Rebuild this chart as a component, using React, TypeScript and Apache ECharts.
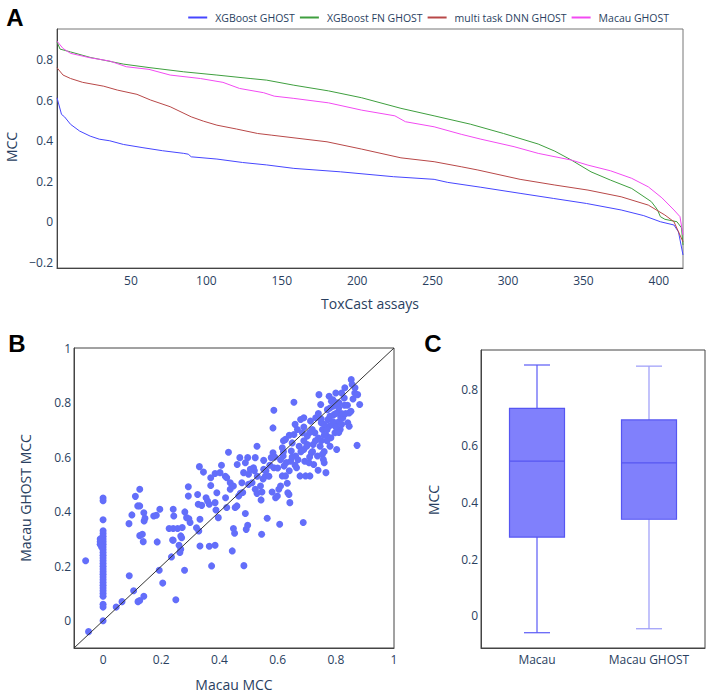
import { useEffect, useRef } from "react";
import * as echarts from "echarts";

// ---------- Panel A: sorted MCC per ToxCast assay ----------
const seriesNames = ["XGBoost GHOST", "XGBoost FN GHOST", "multi task DNN GHOST", "Macau GHOST"];
const assayTicks = [50, 100, 150, 200, 250, 300, 350, 400];
const mccTicksA = [-0.2, 0, 0.2, 0.4, 0.6, 0.8];

const xgbGhost = [
  [1, 0.611], [4, 0.529], [6, 0.517], [10, 0.48], [16, 0.447], [23, 0.422], [29, 0.407],
  [36, 0.399], [45, 0.381], [58, 0.365], [71, 0.35], [85, 0.337], [88, 0.333], [90, 0.32],
  [107, 0.309], [124, 0.292], [140, 0.28], [158, 0.263], [189, 0.246], [224, 0.222],
  [251, 0.209], [260, 0.194], [282, 0.17], [308, 0.14], [330, 0.115], [352, 0.09],
  [375, 0.058], [390, 0.03], [401, 0.0], [410, -0.016], [413, -0.05], [416, -0.164],
];
const xgbFnGhost = [
  [1, 0.887], [3, 0.851], [10, 0.837], [23, 0.81], [45, 0.777], [62, 0.76], [85, 0.739],
  [107, 0.723], [129, 0.706], [140, 0.698], [158, 0.673], [181, 0.645], [203, 0.611],
  [229, 0.559], [251, 0.522], [275, 0.481], [297, 0.435], [320, 0.383], [331, 0.348],
  [342, 0.304], [355, 0.246], [368, 0.205], [382, 0.164], [395, 0.099], [399, 0.06],
  [401, 0.025], [404, 0.012], [412, 0.0], [415, -0.03], [416, -0.115],
];
const dnnGhost = [
  [1, 0.759], [5, 0.723], [10, 0.706], [18, 0.687], [32, 0.668], [41, 0.649], [54, 0.628],
  [63, 0.6], [76, 0.567], [90, 0.517], [98, 0.496], [107, 0.476], [120, 0.457], [134, 0.435],
  [143, 0.427], [180, 0.394], [203, 0.358], [229, 0.315], [251, 0.296], [269, 0.271],
  [280, 0.255], [308, 0.209], [331, 0.181], [353, 0.156], [375, 0.123], [393, 0.082],
  [404, 0.033], [410, 0.0], [416, -0.099],
];
const macauGhost = [
  [1, 0.89], [5, 0.854], [10, 0.83], [23, 0.808], [36, 0.792], [47, 0.764], [62, 0.751],
  [76, 0.723], [96, 0.706], [111, 0.687], [122, 0.657], [138, 0.636], [145, 0.619],
  [158, 0.608], [181, 0.586], [203, 0.55], [225, 0.522], [232, 0.493], [251, 0.468],
  [269, 0.431], [282, 0.407], [304, 0.37], [320, 0.337], [342, 0.304], [353, 0.279],
  [368, 0.251], [382, 0.214], [393, 0.172], [402, 0.118], [410, 0.058], [414, 0.025],
  [416, -0.065],
];
const lineColors = ["#4646ff", "#3f9f3f", "#b84848", "#f24af2"];

// ---------- Panel B: Macau MCC vs Macau GHOST MCC ----------
const scatterTicks = [0, 0.2, 0.4, 0.6, 0.8, 1];
const diagonal = [[-0.1, -0.1], [1, 1]];
const zeroColumnGhost = [
  0.45, 0.44, 0.37, 0.33, 0.32, 0.31, 0.3, 0.29, 0.28, 0.27, 0.26, 0.25, 0.24, 0.23, 0.22,
  0.21, 0.2, 0.19, 0.18, 0.17, 0.16, 0.15, 0.14, 0.13, 0.12, 0.11, 0.1, 0.09, 0.06, 0.05, 0.0,
];
const scatterPoints = [
  [-0.01, 0.29], [-0.01, 0.28], [-0.01, 0.3], [-0.005, 0.27],
  [-0.06, 0.22], [-0.05, -0.04], [0.045, 0.05], [0.065, 0.07], [0.09, 0.165], [0.105, 0.11],
  [0.12, 0.07], [0.126, 0.074], [0.14, 0.09], [0.205, 0.138], [0.193, 0.185], [0.235, 0.234],
  [0.25, 0.077], [0.28, 0.185], [0.264, 0.25], [0.267, 0.262], [0.261, 0.277], [0.241, 0.295],
  [0.27, 0.304], [0.333, 0.274], [0.373, 0.201], [0.444, 0.256], [0.484, 0.202], [0.365, 0.273],
  [0.385, 0.277], [0.186, 0.289], [0.138, 0.29], [0.126, 0.312], [0.135, 0.317], [0.089, 0.356],
  [0.099, 0.388], [0.141, 0.366], [0.144, 0.376], [0.14, 0.396], [0.119, 0.421], [0.126, 0.421],
  [0.111, 0.456], [0.126, 0.482], [0.174, 0.384], [0.183, 0.387], [0.195, 0.409], [0.241, 0.409],
  [0.243, 0.384], [0.227, 0.338], [0.241, 0.338], [0.239, 0.296], [0.256, 0.338], [0.272, 0.342],
  [0.267, 0.311], [0.281, 0.399], [0.287, 0.378], [0.295, 0.374], [0.293, 0.457], [0.293, 0.491],
  [0.299, 0.36], [0.321, 0.341], [0.329, 0.329], [0.333, 0.372], [0.327, 0.427], [0.325, 0.463],
  [0.339, 0.423], [0.331, 0.565], [0.345, 0.545], [0.354, 0.451], [0.359, 0.439], [0.365, 0.427],
  [0.37, 0.496], [0.37, 0.524], [0.385, 0.54], [0.391, 0.469], [0.385, 0.433], [0.388, 0.406],
  [0.396, 0.378], [0.402, 0.543], [0.407, 0.57], [0.42, 0.53], [0.425, 0.524], [0.431, 0.618],
  [0.425, 0.415], [0.421, 0.451], [0.437, 0.482], [0.437, 0.506], [0.448, 0.494], [0.448, 0.338],
  [0.452, 0.321], [0.454, 0.415], [0.46, 0.421], [0.466, 0.457], [0.461, 0.573], [0.47, 0.598],
  [0.472, 0.467], [0.477, 0.506], [0.483, 0.543], [0.489, 0.579], [0.489, 0.393], [0.492, 0.335],
  [0.497, 0.35], [0.497, 0.598], [0.5, 0.537], [0.506, 0.555], [0.512, 0.506], [0.517, 0.561],
  [0.523, 0.598], [0.529, 0.64], [0.523, 0.482], [0.529, 0.467], [0.541, 0.494], [0.543, 0.443],
  [0.546, 0.472], [0.545, 0.317], [0.552, 0.555], [0.558, 0.531], [0.552, 0.588], [0.564, 0.376],
  [0.573, 0.57], [0.578, 0.598], [0.581, 0.472], [0.584, 0.616], [0.587, 0.561], [0.587, 0.772],
  [0.584, 0.707], [0.593, 0.451], [0.599, 0.457], [0.604, 0.482], [0.607, 0.354], [0.61, 0.494],
  [0.616, 0.531], [0.619, 0.604], [0.616, 0.634], [0.622, 0.567], [0.627, 0.665], [0.627, 0.531],
  [0.633, 0.504], [0.635, 0.469], [0.642, 0.433], [0.639, 0.463], [0.645, 0.585], [0.647, 0.622],
  [0.65, 0.652], [0.656, 0.801], [0.656, 0.683], [0.662, 0.604], [0.665, 0.561], [0.668, 0.701],
  [0.674, 0.64], [0.677, 0.531], [0.679, 0.738], [0.685, 0.689], [0.688, 0.36], [0.69, 0.744],
  [0.69, 0.628], [0.693, 0.585], [0.696, 0.531], [0.702, 0.677], [0.702, 0.646], [0.708, 0.579],
  [0.711, 0.531], [0.713, 0.732], [0.716, 0.616], [0.719, 0.701], [0.722, 0.646], [0.724, 0.573],
  [0.728, 0.689], [0.731, 0.744], [0.737, 0.604], [0.739, 0.552], [0.742, 0.829], [0.746, 0.64],
  [0.748, 0.793], [0.75, 0.726], [0.754, 0.701], [0.754, 0.61], [0.757, 0.591], [0.76, 0.579],
  [0.766, 0.543], [0.769, 0.677], [0.771, 0.774], [0.773, 0.738], [0.777, 0.713], [0.777, 0.823],
  [0.783, 0.671], [0.785, 0.805], [0.788, 0.72], [0.792, 0.787], [0.794, 0.756], [0.797, 0.689],
  [0.8, 0.835], [0.803, 0.628], [0.806, 0.762], [0.808, 0.728], [0.811, 0.799], [0.815, 0.701],
  [0.817, 0.744], [0.82, 0.835], [0.824, 0.744], [0.829, 0.817], [0.831, 0.854], [0.834, 0.76],
  [0.841, 0.726], [0.846, 0.762], [0.853, 0.884], [0.856, 0.866], [0.859, 0.813], [0.865, 0.835],
  [0.866, 0.854], [0.873, 0.643], [0.875, 0.829], [0.882, 0.793], [0.852, 0.768], [0.846, 0.713],
  [0.74, 0.76], [0.75, 0.74], [0.76, 0.72], [0.77, 0.7], [0.78, 0.75], [0.79, 0.73], [0.8, 0.71],
  [0.81, 0.78], [0.82, 0.76], [0.83, 0.79], [0.79, 0.81], [0.8, 0.8], [0.81, 0.69], [0.82, 0.72],
  [0.77, 0.66], [0.78, 0.64], [0.76, 0.62], [0.74, 0.67], [0.73, 0.66], [0.72, 0.62], [0.71, 0.6],
  [0.7, 0.64], [0.69, 0.66], [0.68, 0.62], [0.67, 0.59], [0.66, 0.57], [0.65, 0.6], [0.64, 0.55],
  [0.63, 0.58], [0.62, 0.62], [0.61, 0.59], [0.6, 0.56], [0.59, 0.6], [0.57, 0.53], [0.56, 0.55],
  [0.55, 0.52], [0.53, 0.53], [0.52, 0.55], [0.5, 0.5], [0.48, 0.47], [0.62, 0.66], [0.64, 0.68],
  [0.66, 0.72], [0.69, 0.71], [0.71, 0.69], [0.75, 0.66], [0.76, 0.68], [0.78, 0.78], [0.8, 0.76],
  [0.84, 0.79],
];

// ---------- Panel C: box plots ----------
const boxCategories = ["Macau", "Macau GHOST"];
// [min, Q1, median, Q3, max]
const boxStats = [
  [-0.06, 0.278, 0.546, 0.733, 0.886],
  [-0.046, 0.341, 0.54, 0.692, 0.882],
];
const boxTicks = [0, 0.2, 0.4, 0.6, 0.8];
const whiskerColors = ["#5a5af6", "#9a9af8"];

const FONT = "Open Sans";
const TXT = "#2a3f5f";
const fmt = (v: number) => (v < 0 ? "\u2212" + String(Math.abs(v)) : String(v));

export default function App() {
  const ref = useRef<HTMLDivElement>(null);
  useEffect(() => {
    if (!ref.current) return;
    const chart = echarts.init(ref.current, undefined, { renderer: "svg" });
    const axisLine = { show: true, onZero: false, lineStyle: { color: "#444", width: 1 } };
    const labelStyle = { color: TXT, fontFamily: FONT, fontSize: 12 };
    const gridBase = { show: true, borderColor: "#777", borderWidth: 1, backgroundColor: "#fff", containLabel: false, outerBoundsMode: "none" };

    const renderBox = (params: any, api: any) => {
      const i = params.dataIndex;
      const cat = api.value(0);
      const lo = api.coord([cat, api.value(1)]);
      const q1 = api.coord([cat, api.value(2)]);
      const med = api.coord([cat, api.value(3)]);
      const q3 = api.coord([cat, api.value(4)]);
      const hi = api.coord([cat, api.value(5)]);
      const cx = lo[0];
      const boxW = 55;
      const capW = 26;
      const wc = whiskerColors[i];
      const border = "#5656f2";
      const ln = (x1: number, y1: number, x2: number, y2: number, c: string) => ({
        type: "line",
        shape: { x1, y1, x2, y2 },
        style: { stroke: c, lineWidth: 1.2 },
      });
      return {
        type: "group",
        children: [
          ln(cx, hi[1], cx, q3[1], wc),
          ln(cx, q1[1], cx, lo[1], wc),
          ln(cx - capW / 2, hi[1], cx + capW / 2, hi[1], wc),
          ln(cx - capW / 2, lo[1], cx + capW / 2, lo[1], wc),
          {
            type: "rect",
            shape: { x: cx - boxW / 2, y: q3[1], width: boxW, height: q1[1] - q3[1] },
            style: { fill: "#8080fc", stroke: border, lineWidth: 1.2 },
          },
          ln(cx - boxW / 2, med[1], cx + boxW / 2, med[1], border),
        ],
      };
    };

    const option: any = {
      animation: false,
      backgroundColor: "#fff",
      textStyle: { fontFamily: FONT, color: TXT },
      legend: {
        data: seriesNames,
        right: 34,
        top: 7,
        icon: "rect",
        itemWidth: 19,
        itemHeight: 2,
        itemGap: 5,
        textStyle: { color: TXT, fontFamily: FONT, fontSize: 10.5, padding: [0, 0, 0, 3] },
      },
      grid: [
        { ...gridBase, left: 57, top: 29, width: 626, height: 239 },
        { ...gridBase, borderColor: "#444", left: 74, top: 348, width: 320, height: 300 },
        { ...gridBase, borderColor: "#444", left: 481, top: 350, width: 224, height: 298 },
      ],
      xAxis: [
        {
          gridIndex: 0, type: "value", min: 1, max: 416,
          axisLine, splitLine: { show: false },
          axisTick: { show: false, customValues: assayTicks },
          axisLabel: { ...labelStyle, margin: 6, customValues: assayTicks, formatter: fmt },
        },
        {
          gridIndex: 1, type: "value", min: -0.1, max: 1,
          axisLine, splitLine: { show: false },
          axisTick: { show: false, customValues: scatterTicks },
          axisLabel: { ...labelStyle, margin: 5, customValues: scatterTicks, formatter: fmt },
        },
        {
          gridIndex: 2, type: "category", data: boxCategories,
          axisLine, splitLine: { show: false }, axisTick: { show: false },
          axisLabel: { ...labelStyle, margin: 5 },
        },
      ],
      yAxis: [
        {
          gridIndex: 0, type: "value", min: -0.228, max: 0.95,
          axisLine, splitLine: { show: false },
          axisTick: { show: false, customValues: mccTicksA },
          axisLabel: { ...labelStyle, margin: 4, customValues: mccTicksA, formatter: fmt },
        },
        {
          gridIndex: 1, type: "value", min: -0.1, max: 1,
          axisLine, splitLine: { show: false },
          axisTick: { show: false, customValues: scatterTicks },
          axisLabel: { ...labelStyle, margin: 3, customValues: scatterTicks, formatter: fmt },
        },
        {
          gridIndex: 2, type: "value", min: -0.114, max: 0.939,
          axisLine, splitLine: { show: false },
          axisTick: { show: false, customValues: boxTicks },
          axisLabel: { ...labelStyle, margin: 3, customValues: boxTicks, formatter: fmt },
        },
      ],
      series: [
        ...[xgbGhost, xgbFnGhost, dnnGhost, macauGhost].map((d, i) => ({
          name: seriesNames[i],
          type: "line",
          xAxisIndex: 0,
          yAxisIndex: 0,
          data: d,
          symbol: "none",
          color: lineColors[i],
          lineStyle: { width: 1, color: lineColors[i] },
        })),
        {
          type: "scatter",
          xAxisIndex: 1,
          yAxisIndex: 1,
          symbolSize: 7,
          itemStyle: { color: "#636efa", opacity: 1 },
          data: [...zeroColumnGhost.map((y) => [0, y]), ...scatterPoints],
          z: 2,
        },
        {
          type: "line",
          xAxisIndex: 1,
          yAxisIndex: 1,
          data: diagonal,
          symbol: "none",
          lineStyle: { color: "#333", width: 1 },
          z: 3,
        },
        {
          type: "custom",
          xAxisIndex: 2,
          yAxisIndex: 2,
          data: boxStats.map((s, i) => [i, ...s]),
          encode: { x: 0, y: [1, 2, 3, 4, 5] },
          renderItem: renderBox,
        },
      ],
      graphic: [
        { type: "text", x: 15, y: 17, style: { text: "A", font: "bold 24px 'Liberation Sans Narrow', 'Liberation Sans', sans-serif", fill: "#000", align: "center", verticalAlign: "middle" } },
        { type: "text", x: 17, y: 343, style: { text: "B", font: "bold 24px 'Liberation Sans Narrow', 'Liberation Sans', sans-serif", fill: "#000", align: "center", verticalAlign: "middle" } },
        { type: "text", x: 433, y: 343, style: { text: "C", font: "bold 24px 'Liberation Sans Narrow', 'Liberation Sans', sans-serif", fill: "#000", align: "center", verticalAlign: "middle" } },
        { type: "text", x: 11, y: 147, rotation: Math.PI / 2, style: { text: "MCC", font: `14px '${FONT}'`, fill: TXT, align: "center", verticalAlign: "middle" } },
        { type: "text", x: 370, y: 303, style: { text: "ToxCast assays", font: `14px '${FONT}'`, fill: TXT, align: "center", verticalAlign: "middle" } },
        { type: "text", x: 25, y: 498, rotation: Math.PI / 2, style: { text: "Macau GHOST MCC", font: `14px '${FONT}'`, fill: TXT, align: "center", verticalAlign: "middle" } },
        { type: "text", x: 234, y: 684, style: { text: "Macau MCC", font: `14px '${FONT}'`, fill: TXT, align: "center", verticalAlign: "middle" } },
        { type: "text", x: 433, y: 500, rotation: Math.PI / 2, style: { text: "MCC", font: `14px '${FONT}'`, fill: TXT, align: "center", verticalAlign: "middle" } },
      ],
    };
    chart.setOption(option);
    return () => chart.dispose();
  }, []);
  return <div ref={ref} style={{ position: "absolute", left: 0, top: 0, width: 708, height: 692 }} />;
}
